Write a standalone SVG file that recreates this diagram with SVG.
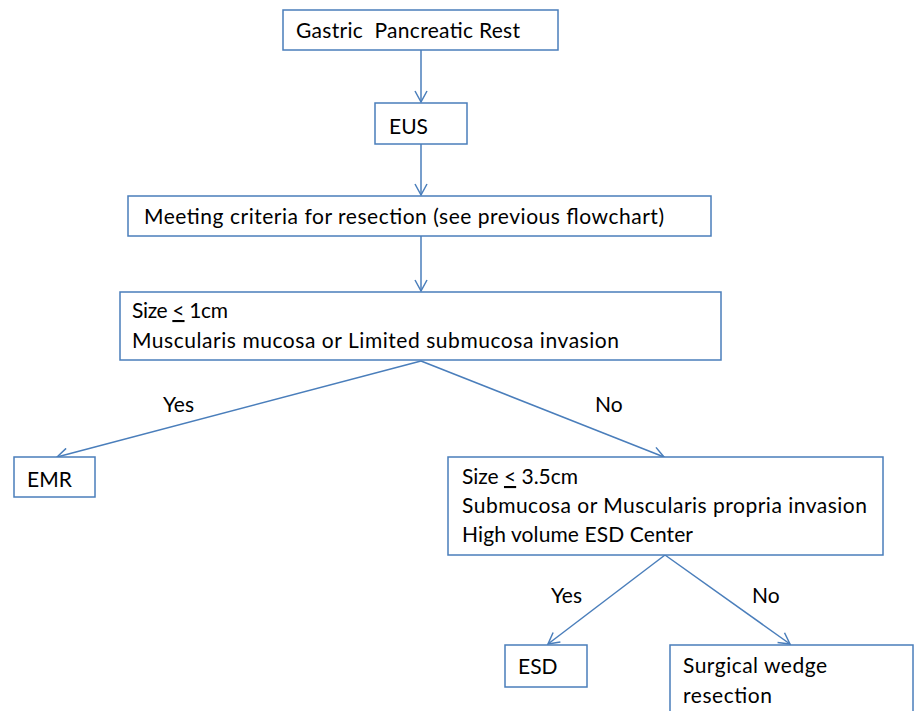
<svg xmlns="http://www.w3.org/2000/svg" width="915" height="711" viewBox="0 0 915 711">
<defs>
<style>
.box{fill:#fff;stroke:#4a7ebb;stroke-width:1.5}
.t{font-family:Lato,"Open Sans","Liberation Sans",sans-serif;font-size:21px;fill:#000}
.c{stroke:#4a7ebb;stroke-width:1.5;fill:none}
</style>
<marker id="ah" markerWidth="14" markerHeight="14" refX="12" refY="7" orient="auto" markerUnits="userSpaceOnUse">
<path d="M1,1 L12,7 L1,13" fill="none" stroke="#4a7ebb" stroke-width="1.5"/>
</marker>
</defs>
<rect width="915" height="711" fill="#fff"/>
<g id="connectors">
<line class="c" x1="421" y1="50" x2="421" y2="102" marker-end="url(#ah)"/>
<line class="c" x1="421" y1="144" x2="421" y2="195" marker-end="url(#ah)"/>
<line class="c" x1="421" y1="236" x2="421" y2="291" marker-end="url(#ah)"/>
<line class="c" x1="421" y1="361" x2="57" y2="457" marker-end="url(#ah)"/>
<line class="c" x1="421" y1="361" x2="664" y2="457" marker-end="url(#ah)"/>
<line class="c" x1="665" y1="555" x2="548" y2="644" marker-end="url(#ah)"/>
<line class="c" x1="665" y1="555" x2="790" y2="644" marker-end="url(#ah)"/>
<text class="t" x="163" y="412">Yes</text>
<text class="t" x="595" y="412">No</text>
<text class="t" x="551" y="603">Yes</text>
<text class="t" x="752" y="603">No</text>
</g>
<g id="n1">
<rect class="box" x="283" y="10" width="275" height="40"/>
<text class="t" x="296" y="38" textLength="224" xml:space="preserve">Gastric  Pancreatic Rest</text>
</g>
<g id="n2">
<rect class="box" x="375" y="103" width="92" height="41"/>
<text class="t" x="389" y="134">EUS</text>
</g>
<g id="n3">
<rect class="box" x="128" y="196" width="583" height="40"/>
<text class="t" x="144" y="224" textLength="520">Meeting criteria for resection (see previous flowchart)</text>
</g>
<g id="n4">
<rect class="box" x="120" y="292" width="601" height="68"/>
<text class="t" x="132" y="318" textLength="96">Size <tspan text-decoration="underline">&lt;</tspan> 1cm</text>
<text class="t" x="132" y="348" textLength="487">Muscularis mucosa or Limited submucosa invasion</text>
</g>
<g id="n5">
<rect class="box" x="14" y="457" width="81" height="40"/>
<text class="t" x="27" y="487">EMR</text>
</g>
<g id="n6">
<rect class="box" x="448" y="457" width="435" height="98"/>
<text class="t" x="462" y="484" textLength="116">Size <tspan text-decoration="underline">&lt;</tspan> 3.5cm</text>
<text class="t" x="462" y="513" textLength="405">Submucosa or Muscularis propria invasion</text>
<text class="t" x="462" y="542" textLength="231">High volume ESD Center</text>
</g>
<g id="n7">
<rect class="box" x="505" y="645" width="82" height="42"/>
<text class="t" x="518" y="674">ESD</text>
</g>
<g id="n8">
<rect class="box" x="670" y="645" width="243" height="80"/>
<text class="t" x="683" y="673" textLength="144">Surgical wedge</text>
<text class="t" x="683" y="703" textLength="89">resection</text>
</g>
</svg>
